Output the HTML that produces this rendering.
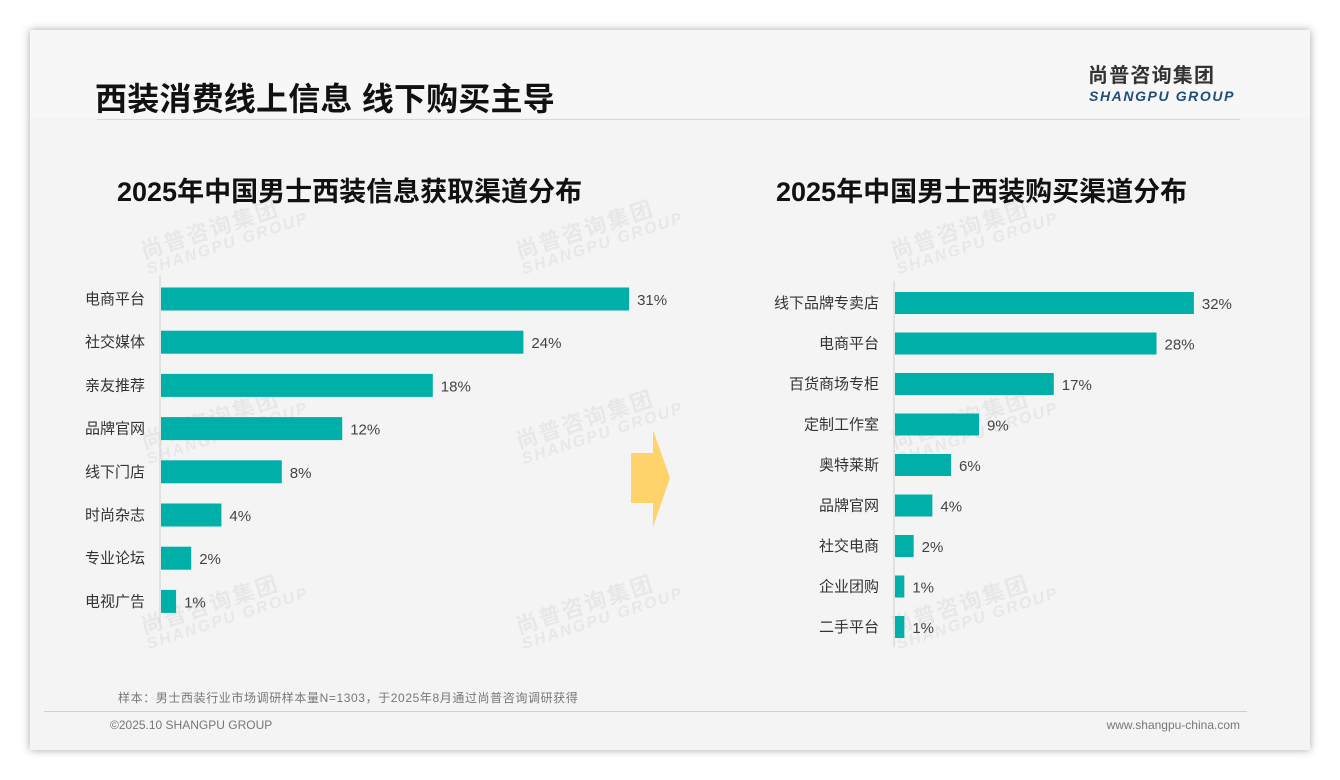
<!DOCTYPE html>
<html><head><meta charset="utf-8">
<style>
body{margin:0;width:1340px;height:780px;background:#fff;font-family:"Liberation Sans","Noto Sans CJK SC",sans-serif;position:relative;overflow:hidden}
.card{position:absolute;left:30px;top:30px;width:1280px;height:720px;background:#f4f4f4;box-shadow:0 0 8px rgba(0,0,0,.35)}
.abs{position:absolute;white-space:nowrap}
.wm{position:absolute;color:rgba(0,0,0,.05);font-weight:bold;transform:rotate(-18deg);line-height:1}
</style></head><body>
<div class="card"></div>
<div class="abs" style="left:30px;top:30px;width:1280px;height:88px;background:#f7f7f7"></div>
<div class="abs" style="left:95px;top:74px;font-size:32px;letter-spacing:0.2px;font-weight:bold;color:#111">西装消费线上信息 线下购买主导</div>
<div class="abs" style="left:97px;top:119px;width:1143px;height:1px;background:#d8d8d8"></div>
<div class="abs" style="left:1088px;top:64px;font-size:20px;font-weight:bold;color:#333;letter-spacing:1.2px;line-height:24px">尚普咨询集团</div>
<div class="abs" style="left:1089px;top:88px;font-size:14px;font-weight:bold;font-style:italic;color:#1f4e79;letter-spacing:1.6px;line-height:16px">SHANGPU GROUP</div>

<div id="wms"></div>

<div class="abs" style="left:117px;top:170px;font-size:27px;font-weight:bold;color:#111">2025年中国男士西装信息获取渠道分布</div>
<div class="abs" style="left:776px;top:170px;font-size:27px;font-weight:bold;color:#111">2025年中国男士西装购买渠道分布</div>

<svg class="abs" style="left:0;top:0" width="1340" height="780">
<polygon points="631,453 653,453 653,430 670,478 653,527 653,503 631,503" fill="#ffd36b"/>
</svg>

<svg id="charts" class="abs" style="left:0;top:0" width="1340" height="780"></svg>

<div class="abs" style="left:118px;top:689px;font-size:12px;letter-spacing:0.6px;color:#777">样本：男士西装行业市场调研样本量N=1303，于2025年8月通过尚普咨询调研获得</div>
<div class="abs" style="left:44px;top:711px;width:1203px;height:1px;background:#c4d2e0"></div>
<div class="abs" style="left:110px;top:718px;font-size:12px;color:#777">©2025.10 SHANGPU GROUP</div>
<div class="abs" style="right:100px;top:718px;font-size:12px;color:#777">www.shangpu-china.com</div>

<script>
const leftCats=["电商平台","社交媒体","亲友推荐","品牌官网","线下门店","时尚杂志","专业论坛","电视广告"];
const leftVals=[31,24,18,12,8,4,2,1];
const rightCats=["线下品牌专卖店","电商平台","百货商场专柜","定制工作室","奥特莱斯","品牌官网","社交电商","企业团购","二手平台"];
const rightVals=[32,28,17,9,6,4,2,1,1];

const NS="http://www.w3.org/2000/svg";
const svg=document.getElementById('charts');
function mk(t,a){const e=document.createElementNS(NS,t);for(const k in a)e.setAttribute(k,a[k]);svg.appendChild(e);return e;}
function chart(cats,vals,o,prefix){
  const x=v=>o.x0+v*o.ppu;
  const y=i=>o.y0+i*o.step;
  const ax=mk('line',{x1:o.x0,x2:o.x0,y1:o.y0-o.step/2-2,y2:y(cats.length-1)+o.step/2,stroke:'#d0d0d0','stroke-width':1});
  
  
  cats.forEach((c,i)=>{
    const r=mk('rect',{x:x(0)+1,y:y(i)-o.bh/2,width:x(vals[i])-x(0),height:o.bh,fill:'#00b0a8'});
    
    
    const t=mk('text',{x:o.x0-15,y:y(i)+5,'text-anchor':'end','font-size':15,fill:'#333','font-family':'Liberation Sans, Noto Sans CJK SC, sans-serif'});
    t.textContent=c;
    
    
    const v=mk('text',{x:x(vals[i])+9,y:y(i)+6,'font-size':15,fill:'#444','font-family':'Liberation Sans, sans-serif'});
    v.textContent=vals[i]+'%';
    
    
  });
}
chart(leftCats,leftVals,{x0:160,ppu:15.1,y0:299,step:43.2,bh:23},'left');
chart(rightCats,rightVals,{x0:894,ppu:9.34,y0:303,step:40.5,bh:22},'right');

const wmPos=[[140,215],[515,215],[890,215],[140,405],[515,405],[890,405],[140,590],[515,590],[890,590]];
const wms=document.getElementById('wms');
wmPos.forEach(p=>{
  const d=document.createElement('div');
  d.className='wm';
  
  
  d.style.left=p[0]+'px';d.style.top=p[1]+'px';
  d.innerHTML='<div style="font-size:22px;letter-spacing:2px">尚普咨询集团</div><div style="font-size:16px;font-style:italic;letter-spacing:2px">SHANGPU GROUP</div>';
  wms.appendChild(d);
});
</script>
</body></html>
